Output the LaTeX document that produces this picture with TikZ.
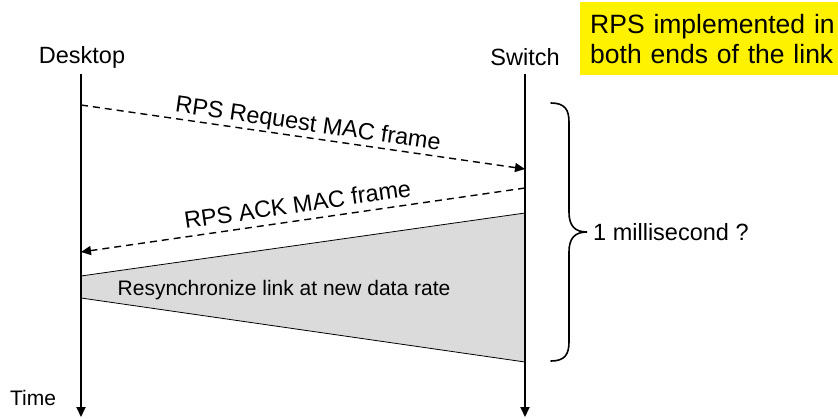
\documentclass[tikz,border=0pt]{standalone}
\usepackage{fontspec}
\setmainfont{Liberation Sans}
\usetikzlibrary{arrows.meta}
\begin{document}
\begin{tikzpicture}[x=1pt,y=-1pt,
  lbl/.style={font=\fontsize{23.5}{27}\selectfont, inner sep=0pt},
  msglbl/.style={font=\fontsize{23.5}{27}\selectfont, inner sep=0pt},
  lifeline/.style={line width=1.8pt, -{Triangle[length=10pt,width=9pt]}},
  msg/.style={line width=1.4pt, dash pattern=on 7pt off 5pt, -{Triangle[length=10pt,width=9pt]}},
  syncarea/.style={fill=black!14, draw=black, line width=0.8pt},
  bracestyle/.style={line width=1.6pt, line cap=round}]
\useasboundingbox (0,0) rectangle (838,418);

% yellow note
\node (note) [fill=yellow, anchor=north west, minimum width=272, minimum height=73,
  text width=252, align=left, inner xsep=10pt, inner ysep=0pt,
  font=\fontsize{26.5}{30}\selectfont] at (580,2) {RPS implemented in\\both ends of the link};

% participants
\node (desk) [lbl] at (82,57) {Desktop};
\node (sw) [lbl] at (525,57) {Switch};
\node (time) [font=\fontsize{21}{24}\selectfont, inner sep=0pt] at (33,398) {Time};

\coordinate (dtop) at (81,74);
\coordinate (dbot) at (81,417);
\coordinate (stop) at (525,74);
\coordinate (sbot) at (525,417);

% synchronization area
\coordinate (g1) at (81,276);
\coordinate (g2) at (525,213);
\coordinate (g3) at (525,362);
\coordinate (g4) at (81,298);
\draw[syncarea] (g1) -- (g2) -- (g3) -- (g4) -- cycle;
\node (resync) [font=\fontsize{21}{24}\selectfont, inner sep=0pt] at (284,290) {Resynchronize link at new data rate};

\draw[lifeline] (dtop) -- (dbot);
\draw[lifeline] (stop) -- (sbot);

% messages
\coordinate (req0) at (81,105);
\coordinate (req1) at (525,169);
\draw[msg] (req0) -- node[msglbl, sloped, above=1pt, pos=0.507] (reqlbl) {RPS Request MAC frame} (req1);
\coordinate (ack0) at (525,188);
\coordinate (ack1) at (81,252);
\draw[msg] (ack0) -- node[msglbl, sloped, above=7pt, pos=0.507] (acklbl) {RPS ACK MAC frame} (ack1);

% brace
\coordinate (b0) at (551,103);
\coordinate (btip) at (587,232);
\coordinate (b1) at (551,361);
\draw[bracestyle] (b0) .. controls (565,103) and (569,110) .. (569,122)
  -- (569,212) .. controls (569,226) and (575,232) .. (btip)
  .. controls (575,232) and (569,238) .. (569,252)
  -- (569,342) .. controls (569,354) and (565,361) .. (b1);
\node (ms) [lbl, anchor=west] at (593,232) {1 millisecond ?};
\end{tikzpicture}
\end{document}
